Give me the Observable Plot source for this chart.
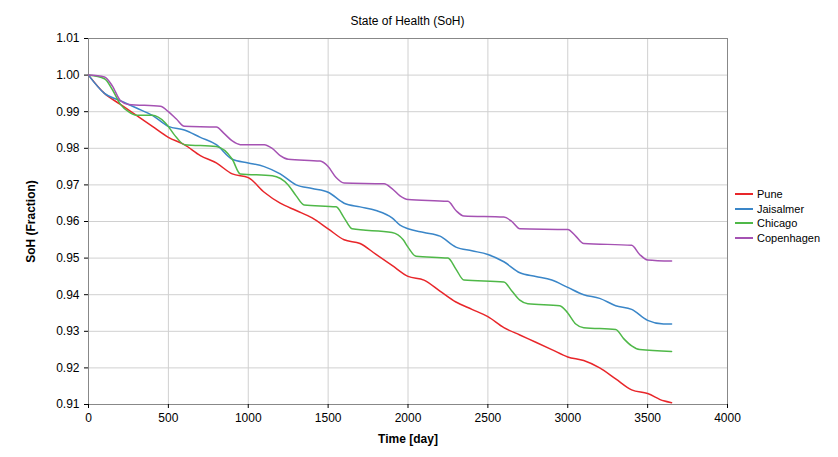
<!DOCTYPE html>
<html><head><meta charset="utf-8">
<script src="https://cdn.jsdelivr.net/npm/d3@7"></script>
<script src="https://cdn.jsdelivr.net/npm/@observablehq/plot@0.6"></script>
<style>
body{margin:0;background:#fff;font-family:"Liberation Sans",Arial,sans-serif;}
#wrap{position:relative;width:838px;height:457px;}
#title{position:absolute;top:14px;left:88px;width:639px;text-align:center;font-size:12px;}
#legend{position:absolute;left:735px;top:187px;font-size:11px;}
#legend div{display:flex;align-items:center;height:14.5px;}
#legend span{display:inline-block;width:18px;height:2px;margin-right:4px;}
</style></head><body>
<div id="wrap"><div id="title">State of Health (SoH)</div><div id="legend"></div></div>
<script>
const seriesNames = ["Pune","Jaisalmer","Chicago","Copenhagen"];
const colors = ["#e8262a","#3a86c8","#4fb848","#a552b3"];
const pune = [[0,1.0],[100,0.995],[200,0.992],[300,0.989],[400,0.986],[500,0.983],[600,0.981],[700,0.978],[800,0.976],[900,0.973],[1000,0.972],[1100,0.968],[1200,0.965],[1300,0.963],[1400,0.961],[1500,0.958],[1600,0.955],[1700,0.954],[1800,0.951],[1900,0.948],[2000,0.945],[2100,0.944],[2200,0.941],[2300,0.938],[2400,0.936],[2500,0.934],[2600,0.931],[2700,0.929],[2800,0.927],[2900,0.925],[3000,0.923],[3100,0.922],[3200,0.920],[3300,0.917],[3400,0.914],[3500,0.913],[3600,0.911],[3650,0.9105]];
const jaisalmer = [[0,1.0],[100,0.995],[200,0.993],[300,0.991],[400,0.989],[500,0.986],[600,0.985],[700,0.983],[800,0.981],[900,0.977],[1000,0.976],[1100,0.975],[1200,0.973],[1300,0.970],[1400,0.969],[1500,0.968],[1600,0.965],[1700,0.964],[1800,0.963],[1900,0.961],[1950,0.959],[2000,0.958],[2100,0.957],[2200,0.956],[2300,0.953],[2400,0.952],[2500,0.951],[2600,0.949],[2700,0.946],[2800,0.945],[2900,0.944],[3000,0.942],[3100,0.940],[3200,0.939],[3300,0.937],[3400,0.936],[3500,0.933],[3600,0.932],[3650,0.932]];
const chicago = [[0,1.0],[100,0.999],[150,0.996],[200,0.992],[250,0.990],[300,0.989],[400,0.989],[480,0.987],[550,0.983],[600,0.981],[800,0.9805],[900,0.977],[950,0.973],[1150,0.9725],[1250,0.970],[1300,0.967],[1350,0.9645],[1550,0.964],[1600,0.961],[1650,0.958],[1900,0.957],[1970,0.955],[2000,0.953],[2050,0.9505],[2250,0.950],[2300,0.947],[2350,0.944],[2600,0.9435],[2650,0.941],[2700,0.9385],[2750,0.9375],[2950,0.937],[3000,0.935],[3050,0.932],[3100,0.931],[3300,0.9305],[3350,0.928],[3400,0.926],[3450,0.925],[3650,0.9245]];
const copenhagen = [[0,1.0],[100,0.9995],[150,0.997],[200,0.993],[250,0.992],[450,0.9915],[500,0.990],[550,0.988],[600,0.986],[800,0.9858],[850,0.984],[900,0.982],[950,0.981],[1100,0.981],[1150,0.980],[1200,0.978],[1250,0.977],[1450,0.9765],[1500,0.975],[1550,0.972],[1600,0.9705],[1850,0.9703],[1900,0.969],[1950,0.967],[2000,0.966],[2250,0.9655],[2300,0.963],[2350,0.9615],[2600,0.9612],[2650,0.960],[2700,0.958],[3000,0.9578],[3050,0.956],[3100,0.954],[3400,0.9535],[3450,0.951],[3500,0.9495],[3650,0.9492]];
const xTicks = [0,500,1000,1500,2000,2500,3000,3500,4000];
const yTicks = [0.91,0.92,0.93,0.94,0.95,0.96,0.97,0.98,0.99,1.00,1.01];

const all = [pune,jaisalmer,chicago,copenhagen];
const data = all.flatMap((s,i)=>s.map(([t,v])=>({t,v,s:seriesNames[i]})));
const chart = Plot.plot({
  width:838,height:457,marginLeft:88,marginRight:111,marginTop:38,marginBottom:53,
  style:{fontFamily:"Liberation Sans, Arial, sans-serif",fontSize:"12px",color:"#000"},
  x:{domain:[0,4000],label:null},
  y:{domain:[0.91,1.01],label:null},
  color:{domain:seriesNames,range:colors},
  marks:[
    Plot.gridX(xTicks,{stroke:"#d0d0d0",strokeOpacity:1}),
    Plot.gridY(yTicks,{stroke:"#d0d0d0",strokeOpacity:1}),
    Plot.frame({stroke:"#888"}),
    Plot.axisX({ticks:xTicks,tickSize:4,tickFormat:d3.format("d"),label:"Time [day]",labelAnchor:"center",labelOffset:38,labelArrow:"none"}),
    Plot.axisY({ticks:yTicks,tickSize:4,tickFormat:d3.format(".2f"),label:"SoH (Fraction)",labelAnchor:"center",labelOffset:62,labelArrow:"none"}),
    Plot.line(data,{x:"t",y:"v",stroke:"s",strokeWidth:1.5,curve:"monotone-x"})
  ]
});
d3.select(chart).selectAll("g[aria-label='x-axis label'] text, g[aria-label='y-axis label'] text").style("font-weight","bold");
document.getElementById("wrap").prepend(chart);
const lg=document.getElementById("legend");
seriesNames.forEach((n,i)=>{lg.innerHTML+=`<div><span style="background:${colors[i]}"></span>${n}</div>`;});
</script></body></html>
